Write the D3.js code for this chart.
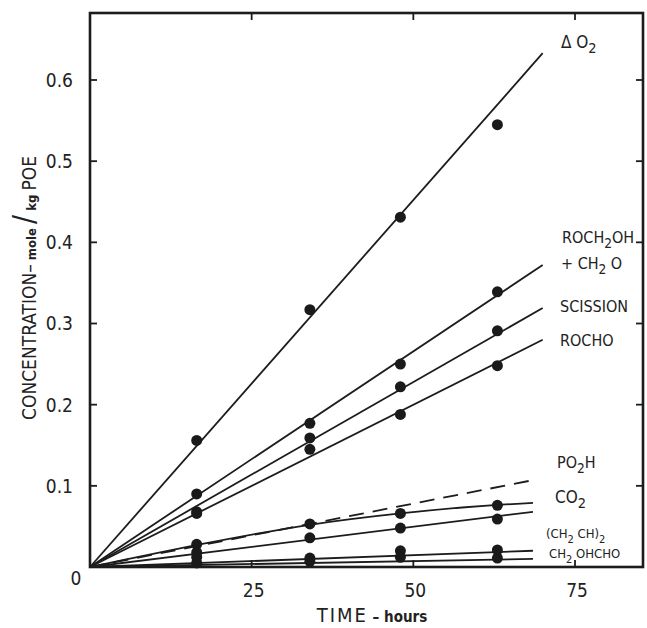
<!DOCTYPE html>
<html>
<head>
<meta charset="utf-8">
<script src="https://cdn.jsdelivr.net/npm/d3@7/dist/d3.min.js"></script>
<style>
  html, body { margin: 0; padding: 0; background: #fff; }
  svg { display: block; }
  text { font-family: "DejaVu Sans Condensed", "DejaVu Sans", sans-serif; font-stretch: condensed; fill: #222; }
</style>
</head>
<body>
<svg id="chart" width="647" height="628"></svg>
<script>
// ---- data ----
const times = [16.5, 34, 48, 63];
const dO2 = [0.156, 0.317, 0.431, 0.545];
const roch2oh = [0.090, 0.177, 0.250, 0.339];
const scission = [0.068, 0.159, 0.222, 0.291];
const rocho = [0.066, 0.145, 0.188, 0.248];
const co2 = [0.028, 0.053, 0.066, 0.076];
const ch2ch2 = [0.018, 0.036, 0.048, 0.059];
const ch2ohcho = [0.012, 0.011, 0.020, 0.021];
const lowest = [0.005, 0.007, 0.012, 0.011];

// fitted lines (drawn from origin to the end values)
const fitNames = ["dO2", "roch2oh", "scission", "rocho", "ch2ch2", "ch2ohcho", "lowest"];
const fitEndTime = [70, 70, 70, 70, 68.5, 68.5, 68.5];
const fitEndValue = [0.633, 0.372, 0.319, 0.280, 0.068, 0.020, 0.010];
// CO2 curve nodes
const co2CurveTimes = [0, 16.5, 34, 48, 63, 68.5];
const co2CurveValues = [0, 0.027, 0.052, 0.066, 0.0765, 0.079];
// PO2H dashed line end
const po2hEnd = [68.5, 0.107];

const xTicks = [25, 50, 75];
const yTicks = [0.1, 0.2, 0.3, 0.4, 0.5, 0.6];
const yTickLabels = ["0.1", "0.2", "0.3", "0.4", "0.5", "0.6"];
const xTickLabels = ["25", "50", "75"];

(function () {
// ---- layout ----
const svg = d3.select("#chart");
const pL = 90, pR = 643, pT = 13, pB = 567;
const x = d3.scaleLinear().domain([0, 75]).range([pL, 575]);
const y = d3.scaleLinear().domain([0, 0.6]).range([pB, 80]);

const ink = "#1c1c1c";

// frame
svg.append("rect").attr("x", pL).attr("y", pT)
  .attr("width", pR - pL).attr("height", pB - pT)
  .attr("fill", "none").attr("stroke", ink).attr("stroke-width", 2.6);

// inward ticks on all four sides
const tl = 7;
const gT = svg.append("g").attr("stroke", ink).attr("stroke-width", 1.8);
xTicks.forEach(t => {
  gT.append("line").attr("x1", x(t)).attr("x2", x(t)).attr("y1", pB).attr("y2", pB - tl);
  gT.append("line").attr("x1", x(t)).attr("x2", x(t)).attr("y1", pT).attr("y2", pT + tl);
});
yTicks.forEach(v => {
  gT.append("line").attr("x1", pL).attr("x2", pL + tl).attr("y1", y(v)).attr("y2", y(v));
  gT.append("line").attr("x1", pR).attr("x2", pR - tl).attr("y1", y(v)).attr("y2", y(v));
});

// tick labels
yTicks.forEach((v, i) => {
  svg.append("text").attr("x", 73).attr("y", y(v)).attr("dy", "0.36em")
    .attr("text-anchor", "end").attr("font-size", 19).text(yTickLabels[i]);
});
svg.append("text").attr("x", 76).attr("y", 585).attr("text-anchor", "middle")
  .attr("font-size", 19).text("0");
xTicks.forEach((t, i) => {
  svg.append("text").attr("x", x(t) + 2).attr("y", 597).attr("text-anchor", "middle")
    .attr("font-size", 19).text(xTickLabels[i]);
});

// axis titles
const xt = svg.append("text").attr("x", 372).attr("y", 622).attr("text-anchor", "middle");
xt.append("tspan").attr("font-size", 20).attr("letter-spacing", 2).text("TIME");
xt.append("tspan").attr("font-size", 15).attr("font-weight", "bold").text(" \u2013 hours");

const yt = svg.append("text").attr("transform", "translate(36,288) rotate(-90)").attr("text-anchor", "middle");
yt.append("tspan").attr("font-size", 19).text("CONCENTRATION\u2013");
yt.append("tspan").attr("font-size", 13).attr("font-weight", "bold").text(" mole ");
yt.append("tspan").attr("font-size", 30).attr("dy", -2).text("/");
yt.append("tspan").attr("font-size", 13).attr("font-weight", "bold").attr("dy", 2).text(" kg ");
yt.append("tspan").attr("font-size", 19).text("POE");

// fitted straight lines
const lineGen = d3.line().x(d => x(d[0])).y(d => y(d[1]));
fitNames.forEach((n, i) => {
  svg.append("path").datum([[0, 0], [fitEndTime[i], fitEndValue[i]]])
    .attr("d", lineGen).attr("fill", "none").attr("stroke", ink).attr("stroke-width", 1.8);
});
// CO2 curve
svg.append("path").datum(co2CurveTimes.map((t, i) => [t, co2CurveValues[i]]))
  .attr("d", d3.line().x(d => x(d[0])).y(d => y(d[1])).curve(d3.curveMonotoneX))
  .attr("fill", "none").attr("stroke", ink).attr("stroke-width", 1.8);
// PO2H dashed
svg.append("path").datum([[0, 0], po2hEnd])
  .attr("d", lineGen).attr("fill", "none").attr("stroke", ink).attr("stroke-width", 1.8)
  .attr("stroke-dasharray", "15,9");

// data points
const series = [dO2, roch2oh, scission, rocho, co2, ch2ch2, ch2ohcho, lowest];
const gP = svg.append("g").attr("fill", "#1a1a1a");
series.forEach(s => {
  s.forEach((v, i) => {
    gP.append("circle").attr("cx", x(times[i])).attr("cy", y(v)).attr("r", 5.5);
  });
});

// curve labels
function label(xp, yp, parts, size) {
  const t = svg.append("text").attr("x", xp).attr("y", yp).attr("font-size", size);
  parts.forEach(p => {
    const ts = t.append("tspan").text(p[0]);
    if (p[1] === "sub") ts.attr("dy", 5).attr("font-size", size * 0.85);
    if (p[1] === "back") ts.attr("dy", -5);
  });
  return t;
}
label(561, 48, [["\u0394 O"], ["2", "sub"]], 17);
label(562, 243, [["ROCH"], ["2", "sub"], ["OH", "back"]], 16);
label(561, 269, [["+ CH"], ["2", "sub"], [" O", "back"]], 16);
label(560, 312, [["SCISSION"]], 16);
label(560, 346, [["ROCHO"]], 16);
label(557, 468, [["PO"], ["2", "sub"], ["H", "back"]], 16);
label(555, 503, [["CO"], ["2", "sub"]], 17);
label(546, 538, [["(CH"], ["2", "sub"], [" CH)", "back"], ["2", "sub"]], 13);
label(549, 558, [["CH"], ["2", "sub"], [" OHCHO", "back"]], 13);
})();
</script>
</body>
</html>
